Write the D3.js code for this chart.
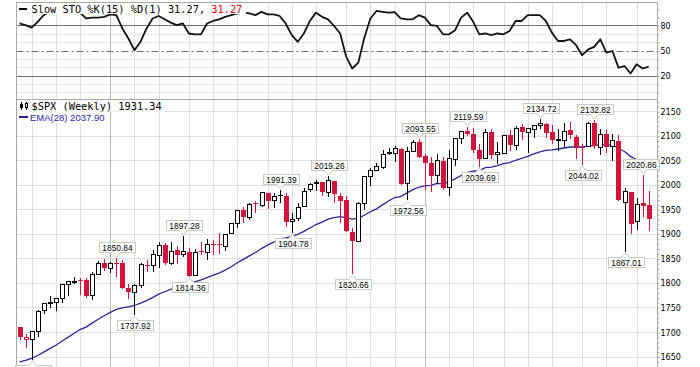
<!DOCTYPE html>
<html>
<head>
<meta charset="utf-8">
<title>$SPX Weekly</title>
<script src="https://cdn.jsdelivr.net/npm/d3@7/dist/d3.min.js"></script>
<style>
  html, body { margin: 0; padding: 0; background: #fff; }
  svg { display: block; }
  text { white-space: pre; }
</style>
</head>
<body>
<div id="chart"></div>
<script>
// weekly bars, dated by the last trading day of each week
var weeks = [
    '2013-09-27', '2013-10-04', '2013-10-11', '2013-10-18', '2013-10-25', '2013-11-01', '2013-11-08',
    '2013-11-15', '2013-11-22', '2013-11-29', '2013-12-06', '2013-12-13', '2013-12-20', '2013-12-27',
    '2014-01-03', '2014-01-10', '2014-01-17', '2014-01-24', '2014-01-31', '2014-02-07', '2014-02-14',
    '2014-02-21', '2014-02-28', '2014-03-07', '2014-03-14', '2014-03-21', '2014-03-28', '2014-04-04',
    '2014-04-11', '2014-04-17', '2014-04-25', '2014-05-02', '2014-05-09', '2014-05-16', '2014-05-23',
    '2014-05-30', '2014-06-06', '2014-06-13', '2014-06-20', '2014-06-27', '2014-07-03', '2014-07-11',
    '2014-07-18', '2014-07-25', '2014-08-01', '2014-08-08', '2014-08-15', '2014-08-22', '2014-08-29',
    '2014-09-05', '2014-09-12', '2014-09-19', '2014-09-26', '2014-10-03', '2014-10-10', '2014-10-17',
    '2014-10-24', '2014-10-31', '2014-11-07', '2014-11-14', '2014-11-21', '2014-11-28', '2014-12-05',
    '2014-12-12', '2014-12-19', '2014-12-26', '2015-01-02', '2015-01-09', '2015-01-16', '2015-01-23',
    '2015-01-30', '2015-02-06', '2015-02-13', '2015-02-20', '2015-02-27', '2015-03-06', '2015-03-13',
    '2015-03-20', '2015-03-27', '2015-04-02', '2015-04-10', '2015-04-17', '2015-04-24', '2015-05-01',
    '2015-05-08', '2015-05-15', '2015-05-22', '2015-05-29', '2015-06-05', '2015-06-12', '2015-06-19',
    '2015-06-26', '2015-07-02', '2015-07-10', '2015-07-17', '2015-07-24', '2015-07-31', '2015-08-07',
    '2015-08-14', '2015-08-21', '2015-08-28', '2015-09-04', '2015-09-11', '2015-09-18', '2015-09-25'
];

var opens = [
    1711.44, 1687.26, 1687.15, 1702.93, 1745.20, 1759.42, 1762.01, 1769.96, 1798.82, 1804.82, 1806.55, 1806.40, 1776.01, 1818.32,
    1841.47, 1832.31, 1842.29, 1841.05, 1790.88, 1782.68, 1796.20, 1838.22, 1836.78, 1857.68, 1878.52, 1841.07, 1867.67, 1859.16,
    1863.92, 1816.89, 1865.79, 1865.00, 1879.45, 1880.03, 1876.66, 1902.01, 1923.87, 1948.97, 1934.84, 1962.92, 1960.79, 1984.22,
    1969.86, 1979.43, 1978.25, 1926.26, 1933.43, 1958.36, 1991.74, 2004.07, 2007.17, 1986.04, 2009.08, 1978.96, 1970.01, 1905.65,
    1886.76, 1964.14, 2018.21, 2032.01, 2038.26, 2065.07, 2065.78, 2074.84, 2005.03, 2069.28, 2087.63, 2058.90, 2046.13, 2020.76,
    2050.42, 1996.67, 2053.47, 2096.47, 2109.83, 2105.23, 2072.25, 2055.35, 2107.99, 2064.11, 2064.87, 2102.94, 2083.10, 2119.29,
    2108.35, 2115.56, 2122.27, 2125.34, 2108.64, 2092.34, 2091.34, 2112.50, 2098.63, 2079.00, 2080.03, 2126.80, 2078.19, 2104.49,
    2081.00, 2089.70, 1965.15, 1986.73, 1927.30, 1963.06, 1960.84
];
var highs = [
    1711.44, 1696.55, 1703.44, 1745.31, 1759.82, 1775.22, 1770.78, 1798.22, 1804.84, 1813.55, 1811.52, 1811.78, 1823.75, 1844.89,
    1849.44, 1843.23, 1850.84, 1847.00, 1798.77, 1798.03, 1841.65, 1847.50, 1867.92, 1883.57, 1882.35, 1883.97, 1875.92, 1897.28,
    1872.53, 1869.63, 1884.89, 1891.33, 1889.07, 1902.17, 1901.26, 1924.03, 1949.50, 1955.55, 1963.91, 1968.17, 1985.59, 1984.22,
    1983.94, 1991.39, 1984.85, 1942.92, 1964.04, 1994.76, 2005.04, 2011.17, 2007.17, 2019.26, 2009.08, 1985.17, 1977.84, 1912.09,
    1965.27, 2018.19, 2034.26, 2046.18, 2071.46, 2075.76, 2079.47, 2075.78, 2077.85, 2092.70, 2093.55, 2064.43, 2056.93, 2064.62,
    2057.62, 2072.40, 2097.03, 2110.61, 2119.59, 2117.52, 2083.49, 2113.92, 2114.86, 2088.97, 2102.61, 2111.91, 2120.92, 2125.92,
    2117.66, 2123.89, 2134.72, 2126.22, 2121.92, 2115.02, 2126.65, 2129.87, 2102.00, 2085.00, 2128.00, 2132.82, 2114.24, 2112.66,
    2105.35, 2103.47, 1993.48, 1986.73, 1975.01, 2020.86, 1989.14
];
var lows = [
    1687.11, 1670.36, 1646.47, 1692.13, 1740.50, 1752.70, 1746.20, 1761.56, 1777.23, 1800.58, 1779.09, 1772.28, 1767.99, 1818.32,
    1827.74, 1823.73, 1815.52, 1790.29, 1770.45, 1737.92, 1791.83, 1824.58, 1825.88, 1834.44, 1839.57, 1839.49, 1842.11, 1856.72,
    1814.36, 1816.89, 1859.70, 1850.61, 1859.79, 1862.36, 1868.14, 1902.01, 1915.98, 1925.78, 1930.91, 1944.69, 1958.22, 1952.86,
    1955.59, 1965.84, 1916.37, 1904.78, 1928.29, 1958.36, 1988.57, 1990.10, 1980.26, 1978.48, 1965.99, 1926.03, 1906.05, 1820.66,
    1886.76, 1951.37, 2001.01, 2030.44, 2034.46, 2064.75, 2049.57, 2002.33, 1972.56, 2069.28, 2057.94, 1992.44, 1988.12, 2004.49,
    1993.39, 1980.90, 2041.88, 2085.44, 2103.00, 2067.27, 2039.69, 2055.35, 2056.32, 2045.50, 2064.87, 2072.00, 2073.48, 2094.91,
    2067.93, 2099.00, 2117.00, 2099.18, 2085.67, 2072.14, 2081.00, 2097.00, 2056.64, 2044.02, 2080.00, 2077.00, 2063.52, 2067.00,
    2052.09, 1970.89, 1867.01, 1903.07, 1911.00, 1938.00, 1908.77
];
var closes = [
    1691.75, 1690.50, 1703.20, 1744.50, 1759.77, 1761.64, 1770.61, 1798.18, 1804.76, 1805.81, 1805.09, 1775.32, 1818.32, 1841.40,
    1831.37, 1842.37, 1838.70, 1790.29, 1782.59, 1797.02, 1838.63, 1836.25, 1859.45, 1878.04, 1841.13, 1866.52, 1857.62, 1865.09,
    1815.69, 1864.85, 1863.40, 1881.14, 1878.48, 1877.86, 1900.53, 1923.57, 1949.44, 1936.16, 1962.87, 1960.96, 1985.44, 1967.57,
    1978.22, 1978.34, 1925.15, 1931.59, 1955.06, 1988.40, 2003.37, 2007.71, 1985.54, 2010.40, 1982.85, 1967.90, 1906.13, 1886.76,
    1964.58, 2018.05, 2031.92, 2039.82, 2063.50, 2067.56, 2075.37, 2002.33, 2070.65, 2088.77, 2058.20, 2044.81, 2019.42, 2051.82,
    1994.99, 2055.47, 2096.99, 2110.30, 2104.50, 2071.26, 2053.40, 2108.10, 2061.02, 2066.96, 2102.06, 2081.18, 2117.69, 2108.29,
    2116.10, 2122.73, 2126.06, 2107.39, 2092.83, 2094.11, 2109.99, 2101.49, 2076.78, 2076.62, 2126.64, 2079.65, 2103.84, 2077.57,
    2091.54, 1970.89, 1988.87, 1921.22, 1961.05, 1958.03, 1931.34
];
// close of the week before the first bar (sets the colour of the first candle)
var prevClose0 = 1709.91;

var ema28 = [
    1640, 1643, 1647, 1653, 1660, 1667, 1674, 1682, 1690, 1698, 1706, 1711, 1719, 1727,
    1734, 1741, 1747, 1750, 1752, 1755, 1760, 1765, 1771, 1778, 1783, 1788, 1792, 1797,
    1798, 1803, 1807, 1812, 1817, 1821, 1827, 1834, 1842, 1849, 1856, 1863, 1871, 1878,
    1884, 1891, 1893, 1896, 1900, 1906, 1913, 1920, 1925, 1931, 1934, 1936, 1934, 1931,
    1933, 1939, 1946, 1952, 1960, 1968, 1975, 1977, 1984, 1991, 1996, 1999, 2000, 2004,
    2003, 2007, 2013, 2020, 2026, 2029, 2030, 2036, 2037, 2040, 2044, 2046, 2051, 2055,
    2059, 2064, 2068, 2071, 2072, 2074, 2076, 2078, 2078, 2078, 2081, 2081, 2083, 2082,
    2083, 2075, 2069, 2059, 2052, 2046, 2037.90
];

var slowK = [
    83, 81, 78, 85, 93, 97, 98, 99, 98, 97, 96, 89, 90, 90,
    91, 94, 93, 77, 65, 51, 61, 77, 89, 92, 88, 84, 81, 83,
    71, 70, 70, 83, 86, 88, 91, 93, 95, 96, 95, 93, 97, 94,
    94, 92, 83, 69, 61, 71, 86, 96, 91, 88, 80, 71, 43, 29,
    36, 66, 89, 98, 97, 96, 96.5, 89, 88, 88, 93, 90, 81, 80,
    70, 70, 75, 90, 96, 85, 70, 71, 69, 71, 70, 74, 86, 86,
    93, 93, 93, 86, 72, 62, 62, 64, 57, 45, 52, 55, 64, 48,
    50, 30, 32, 23, 34, 29, 31.27
];

var priceTicks = [1650, 1700, 1750, 1800, 1850, 1900, 1950, 2000, 2050, 2100, 2150];
var stoTicks = [20, 50, 80];
var stoGrid = [0, 10, 30, 40, 60, 70];

// weeks that carry a price flag
var highFlagWeeks = ['2014-01-17', '2014-04-04', '2014-07-25', '2014-09-19', '2015-01-02',
    '2015-02-27', '2015-05-22', '2015-07-24', '2015-09-18'];
var lowFlagWeeks = ['2013-10-11', '2014-02-07', '2014-04-11', '2014-08-08', '2014-10-17',
    '2014-12-19', '2015-03-13', '2015-07-10', '2015-08-28'];

var red = '#d2143c', navy = '#25259c';
var dim = {w: 700, h: 367, l: 16.5, r: 657.5, stTop: 2.5, stBot: 99.5, prBot: 400};

var svg = d3.select('#chart').append('svg')
    .attr('width', dim.w)
    .attr('height', dim.h);

var parseDate = d3.timeParse('%Y-%m-%d');
var dates = weeks.map(parseDate);

// x position of every weekly bar
var x = d3.scaleLinear().domain([0, weeks.length - 1]).range([19.5, 648.7]);
function bx(i) { return Math.round(x(i)) + 0.5; }
function hy(v) { return Math.floor(v) + 0.5; }

var yP = d3.scaleLinear().domain([1650, 2150]).range([357, 111.7]);
var yS = d3.scaleLinear().domain([0, 100]).range([92.7, 9.3]);

// clip regions of the two panels
var defs = svg.append('defs');
defs.append('clipPath').attr('id', 'clip-sto').append('rect')
    .attr('x', dim.l).attr('y', dim.stTop)
    .attr('width', dim.r - dim.l).attr('height', dim.stBot - dim.stTop);
defs.append('clipPath').attr('id', 'clip-px').append('rect')
    .attr('x', dim.l).attr('y', dim.stBot)
    .attr('width', dim.r - dim.l).attr('height', dim.prBot - dim.stBot);

// month boundaries: first bar whose week starts in a new month
var monthLines = [];
dates.forEach(function(d, i) {
    if (i === 0) return;
    var m0 = d3.timeMonday.floor(dates[i - 1]).getMonth();
    var m1 = d3.timeMonday.floor(d).getMonth();
    if (m0 !== m1) monthLines.push({i: i, year: m1 === 0});
});

var grid = svg.append('g');

// light 10-step lines of the stochastic panel
grid.selectAll('.sto-minor').data(stoGrid).enter().append('line')
    .attr('x1', dim.l).attr('x2', dim.r)
    .attr('y1', function(d) { return hy(yS(d)); })
    .attr('y2', function(d) { return hy(yS(d)); })
    .attr('stroke', '#e8e8e8');

// price grid
grid.selectAll('.px-grid').data(priceTicks).enter().append('line')
    .attr('x1', dim.l).attr('x2', dim.r)
    .attr('y1', function(d) { return hy(yP(d)); })
    .attr('y2', function(d) { return hy(yP(d)); })
    .attr('stroke', '#dedede');

// month / year lines through both panels
grid.selectAll('.month').data(monthLines).enter().append('line')
    .attr('x1', function(d) { return bx(d.i); })
    .attr('x2', function(d) { return bx(d.i); })
    .attr('y1', dim.stTop).attr('y2', dim.prBot)
    .attr('stroke', function(d) { return d.year ? '#b8b8b8' : '#dedede'; });

// overbought / oversold / middle lines
grid.selectAll('.sto-level').data(stoTicks).enter().append('line')
    .attr('x1', dim.l).attr('x2', dim.r)
    .attr('y1', function(d) { return hy(yS(d)); })
    .attr('y2', function(d) { return hy(yS(d)); })
    .attr('stroke', '#707070')
    .attr('stroke-dasharray', function(d) { return d === 50 ? '7,3,2,3' : null; });

// panel frame
var frame = svg.append('g').attr('stroke', '#a8a8a8');
frame.append('line').attr('x1', dim.l).attr('x2', dim.r).attr('y1', dim.stTop).attr('y2', dim.stTop);
frame.append('line').attr('x1', dim.l).attr('x2', dim.r).attr('y1', dim.stBot).attr('y2', dim.stBot);
frame.append('line').attr('x1', dim.l).attr('x2', dim.l).attr('y1', dim.stTop).attr('y2', dim.prBot);
frame.append('line').attr('x1', dim.r).attr('x2', dim.r).attr('y1', dim.stTop).attr('y2', dim.prBot);

// slow stochastic line
svg.append('path').datum(slowK)
    .attr('clip-path', 'url(#clip-sto)')
    .attr('d', d3.line()
        .x(function(d, i) { return x(i); })
        .y(function(d) { return yS(d); }))
    .attr('fill', 'none')
    .attr('stroke', '#161010')
    .attr('stroke-width', 1.8)
    .attr('stroke-linejoin', 'round');

// EMA(28)
svg.append('path').datum(ema28)
    .attr('clip-path', 'url(#clip-px)')
    .attr('d', d3.line()
        .x(function(d, i) { return x(i); })
        .y(function(d) { return yP(d); }))
    .attr('fill', 'none')
    .attr('stroke', navy)
    .attr('stroke-width', 1.3);

// candlesticks: hollow when close >= open, red when close < previous close
function tone(i) {
    var pc = i === 0 ? prevClose0 : closes[i - 1];
    return closes[i] >= pc ? '#000' : red;
}

var bars = svg.append('g').attr('clip-path', 'url(#clip-px)')
    .selectAll('.bar').data(closes).enter()
    .append('g').attr('class', 'bar');

bars.append('line')
    .attr('x1', function(d, i) { return bx(i); })
    .attr('x2', function(d, i) { return bx(i); })
    .attr('y1', function(d, i) { return Math.round(yP(highs[i])); })
    .attr('y2', function(d, i) { return Math.round(yP(lows[i])) + 1; })
    .attr('stroke', function(d, i) { return tone(i); });

bars.append('rect')
    .attr('x', function(d, i) { return closes[i] >= opens[i] ? bx(i) - 2 : bx(i) - 2.5; })
    .attr('width', function(d, i) { return closes[i] >= opens[i] ? 4 : 5; })
    .attr('y', function(d, i) {
        var top = Math.round(yP(Math.max(opens[i], closes[i])));
        return closes[i] >= opens[i] ? top + 0.5 : top;
    })
    .attr('height', function(d, i) {
        var top = Math.round(yP(Math.max(opens[i], closes[i])));
        var bot = Math.round(yP(Math.min(opens[i], closes[i])));
        return Math.max(bot - top, 1);
    })
    .attr('fill', function(d, i) { return closes[i] >= opens[i] ? '#fff' : tone(i); })
    .attr('stroke', function(d, i) { return closes[i] >= opens[i] ? tone(i) : 'none'; });

// price flags on swing highs and lows
var flags = svg.append('g');
function addFlag(i, isHigh) {
    var val = isHigh ? highs[i] : lows[i];
    var cx = bx(i), yv = yP(val);
    var g = flags.append('g');
    var t = g.append('text').text(val.toFixed(2))
        .attr('font-family', 'Liberation Sans, Arial, sans-serif')
        .attr('font-size', 8.4)
        .attr('fill', '#000')
        .attr('text-anchor', 'middle');
    var bw = Math.round(t.node().getComputedTextLength() + 6), bh = 10;
    var left = Math.round(cx - bw / 2);
    if (left + bw > dim.r + 1) left = Math.round(dim.r + 1 - bw);
    var top = isHigh ? Math.round(yv - 6 - bh) : Math.round(yv + 6);
    g.insert('rect', 'text')
        .attr('x', left + 0.5).attr('y', top + 0.5)
        .attr('width', bw).attr('height', bh)
        .attr('fill', '#fff').attr('stroke', '#c8c8c8');
    var edge = isHigh ? top + bh + 0.5 : top + 0.5;
    var apex = isHigh ? edge + 4.5 : edge - 4.5;
    g.insert('path', 'text')
        .attr('d', 'M' + (cx - 4) + ',' + edge + 'L' + cx + ',' + apex + 'L' + (cx + 4) + ',' + edge)
        .attr('fill', '#fff').attr('stroke', '#c8c8c8');
    g.insert('line', 'text')
        .attr('x1', cx - 3).attr('x2', cx + 3).attr('y1', edge).attr('y2', edge)
        .attr('stroke', '#fff');
    t.attr('x', left + 0.5 + bw / 2).attr('y', top + 8.5);
}
highFlagWeeks.forEach(function(w) { addFlag(weeks.indexOf(w), true); });
lowFlagWeeks.forEach(function(w) { addFlag(weeks.indexOf(w), false); });

// right-hand axes
function styleAxis(g) {
    g.select('.domain').remove();
    g.selectAll('text')
        .attr('font-family', 'DejaVu Sans, Verdana, sans-serif')
        .attr('font-size', 8)
        .attr('fill', '#000');
}
function minorTicks(g) {
    g.select('.domain').remove();
    g.selectAll('line').attr('stroke', '#aaa');
}
svg.append('g').attr('transform', 'translate(' + dim.r + ',0)')
    .call(d3.axisRight(yP).tickValues(d3.range(1560, 2180, 10)).tickSize(2).tickFormat(''))
    .call(minorTicks);
svg.append('g').attr('transform', 'translate(' + dim.r + ',0)')
    .call(d3.axisRight(yS).tickValues(d3.range(0, 101, 10)).tickSize(2).tickFormat(''))
    .call(minorTicks);
svg.append('g').attr('transform', 'translate(' + dim.r + ',0)')
    .call(d3.axisRight(yP).tickValues(priceTicks).tickSize(0).tickPadding(3).tickFormat(d3.format('d')))
    .call(styleAxis);
svg.append('g').attr('transform', 'translate(' + dim.r + ',0)')
    .call(d3.axisRight(yS).tickValues(stoTicks).tickSize(0).tickPadding(3).tickFormat(d3.format('d')))
    .call(styleAxis);

// legends
var last = closes.length - 1;
var mono = 'DejaVu Sans Mono, monospace';

var legS = svg.append('g');
legS.append('rect').attr('x', 17).attr('y', 3).attr('width', 229).attr('height', 11).attr('fill', '#fff');
legS.append('line').attr('x1', 19).attr('x2', 27).attr('y1', 9).attr('y2', 9)
    .attr('stroke', '#000').attr('stroke-width', 2);
var tS = legS.append('text').attr('x', 31.5).attr('y', 12.6)
    .attr('font-family', mono).attr('font-size', 10.3).attr('fill', '#000');
tS.append('tspan').text('Slow STO %K(15) %D(1) ' + slowK[last].toFixed(2) + ', ');
tS.append('tspan').attr('fill', '#e80000').text(slowK[last].toFixed(2));

var legP = svg.append('g');
legP.append('rect').attr('x', 17).attr('y', 100).attr('width', 147).attr('height', 11.5).attr('fill', '#fff');
// small candlestick icon
legP.append('line').attr('x1', 21.5).attr('x2', 21.5).attr('y1', 102).attr('y2', 110).attr('stroke', '#000');
legP.append('rect').attr('x', 20).attr('y', 104).attr('width', 3).attr('height', 4).attr('fill', '#000');
legP.append('line').attr('x1', 26.5).attr('x2', 26.5).attr('y1', 102).attr('y2', 110).attr('stroke', '#000');
legP.append('rect').attr('x', 25.5).attr('y', 103.5).attr('width', 2).attr('height', 4)
    .attr('fill', '#fff').attr('stroke', '#000');
legP.append('text').attr('x', 31.5).attr('y', 110)
    .attr('font-family', mono).attr('font-size', 10.3).attr('fill', '#000')
    .text('$SPX (Weekly) ' + closes[last].toFixed(2));

legP.append('rect').attr('x', 17).attr('y', 111.5).attr('width', 88).attr('height', 11).attr('fill', '#fff');
legP.append('line').attr('x1', 19).attr('x2', 28).attr('y1', 117).attr('y2', 117)
    .attr('stroke', navy).attr('stroke-width', 2);
legP.append('text').attr('x', 30).attr('y', 120.8)
    .attr('font-family', 'Liberation Sans, Arial, sans-serif').attr('font-size', 9.5).attr('fill', navy)
    .text('EMA(28) ' + ema28[last].toFixed(2));
</script>
</body>
</html>
